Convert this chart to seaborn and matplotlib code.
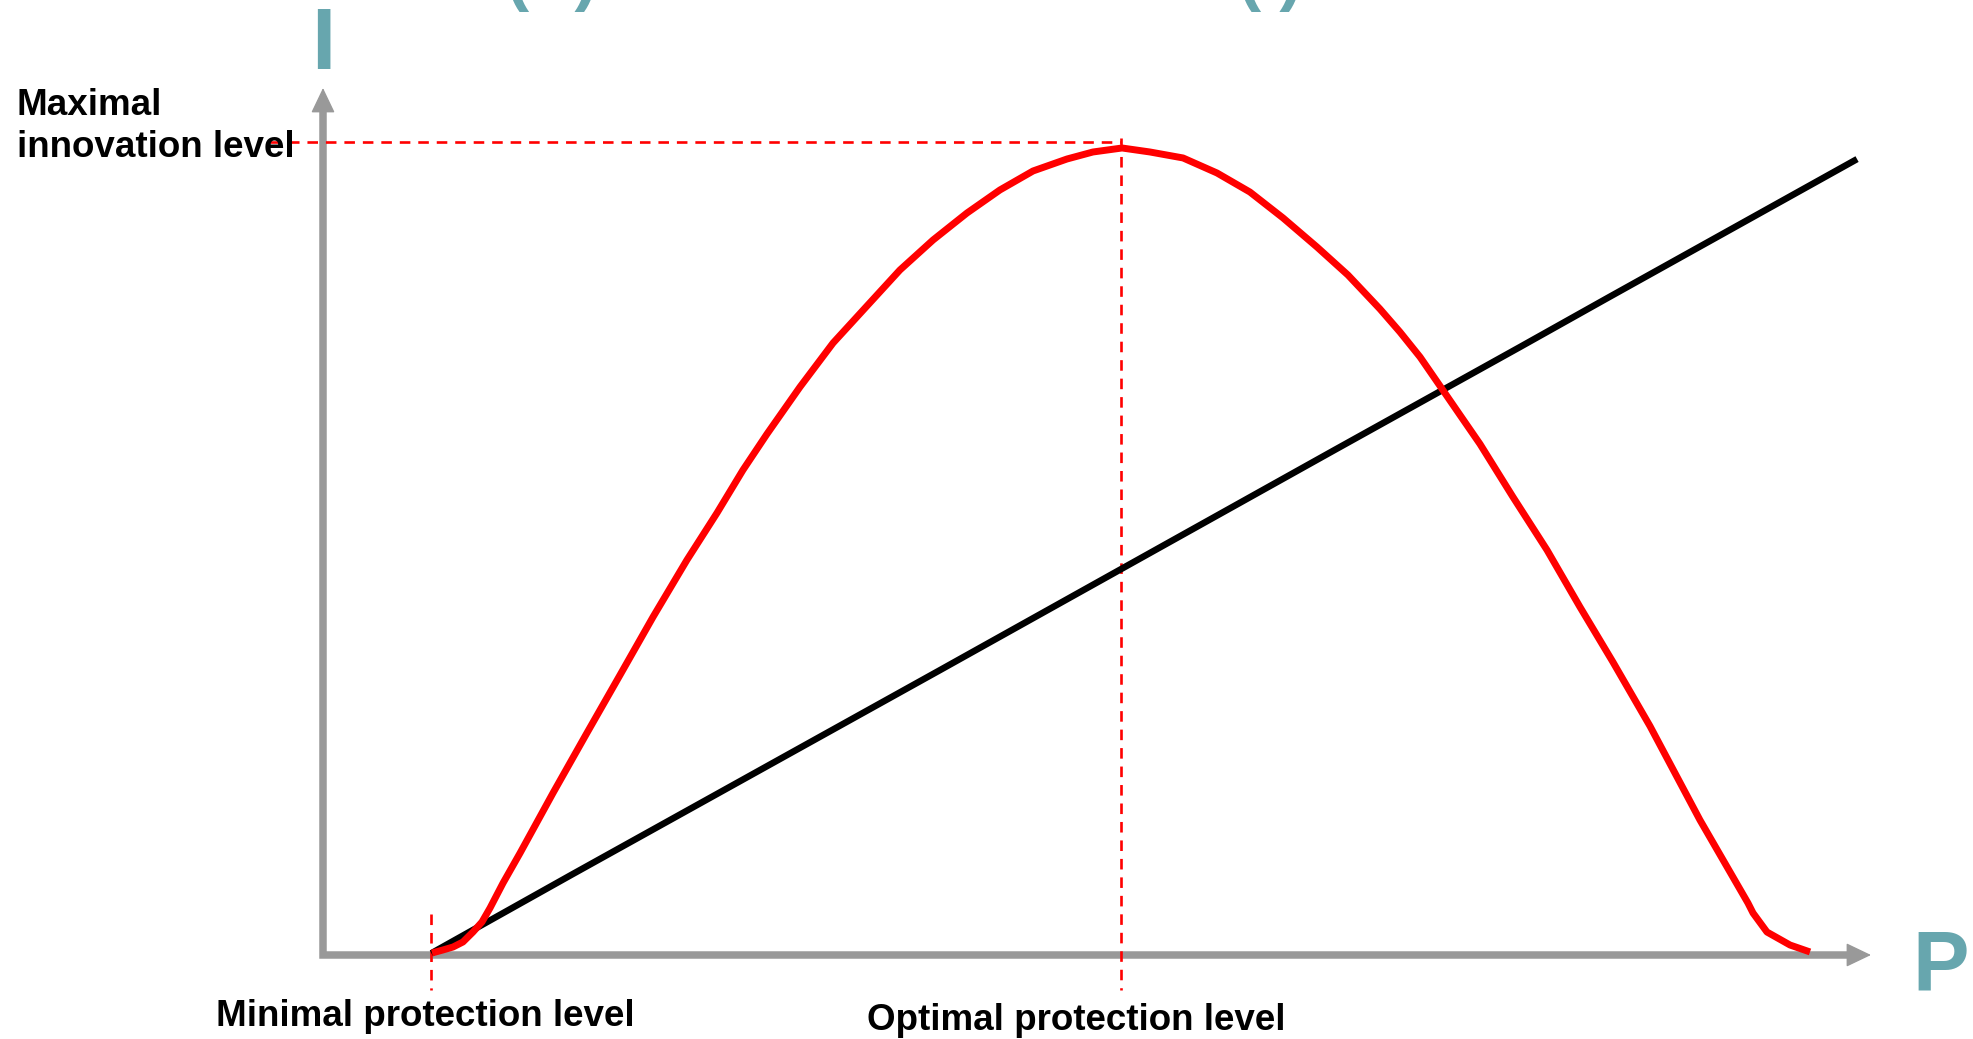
# Innovation level vs protection level - sketch with seaborn
import matplotlib
matplotlib.use("Agg")
import matplotlib.pyplot as plt
import seaborn as sns

# protection level (P) and innovation level (I)
red_p = [0.704, 0.775, 0.840, 0.904, 0.969, 1.027, 1.079, 1.163, 1.273, 1.486,
         1.705, 1.919, 2.132, 2.351, 2.545, 2.713, 2.868, 3.081, 3.295, 3.514,
         3.727, 3.941, 4.160, 4.373, 4.587, 4.806, 4.974, 5.162, 5.342, 5.556,
         5.775, 5.988, 6.202, 6.421, 6.621, 6.828, 6.957, 7.087, 7.216, 7.345,
         7.474, 7.687, 7.907, 8.120, 8.333, 8.572, 8.895, 9.205, 9.238, 9.328,
         9.477, 9.606]
red_i = [0.023, 0.058, 0.092, 0.150, 0.265, 0.381, 0.542, 0.830, 1.176, 1.869,
         2.561, 3.230, 3.899, 4.556, 5.098, 5.594, 6.009, 6.551, 7.059, 7.486,
         7.901, 8.247, 8.558, 8.824, 9.043, 9.181, 9.262, 9.308, 9.262, 9.193,
         9.020, 8.800, 8.501, 8.166, 7.843, 7.451, 7.186, 6.897, 6.563, 6.228,
         5.894, 5.283, 4.671, 4.014, 3.379, 2.641, 1.557, 0.600, 0.484, 0.265,
         0.115, 0.035]
black_p = [0.70, 1.61, 3.99, 6.53, 7.73, 8.30, 9.91]
black_i = [0.02, 0.93, 3.29, 5.82, 7.01, 7.58, 9.18]

min_level = 0.70
opt_level = 5.155
max_innov = 9.38

gray = "#999999"
teal = "#67A6AE"

sns.set_theme(style="white")
plt.rcParams["font.family"] = ["Liberation Sans", "DejaVu Sans"]

fig = plt.figure(figsize=(19.73, 10.39), dpi=100)
ax = fig.add_axes([0, 0, 1, 1])
ax.set_xlim(-2.0866, 10.659)
ax.set_ylim(-0.969, 11.015)
ax.axis("off")

# axes with arrow heads
ax.plot([0, 0, 9.86], [9.72, 0, 0], color=gray, lw=5.4,
        solid_joinstyle="miter", solid_capstyle="butt")
head = "-|>,head_length=15.9,head_width=7.6"
ax.annotate("", xy=(10, 0), xytext=(9.8, 0),
            arrowprops=dict(arrowstyle=head, mutation_scale=1, color=gray,
                            lw=1, shrinkA=0, shrinkB=0))
ax.annotate("", xy=(0, 10), xytext=(0, 9.6),
            arrowprops=dict(arrowstyle=head, mutation_scale=1, color=gray,
                            lw=1, shrinkA=0, shrinkB=0))

# guide lines
dash = (0, (4.0, 3.0))
ax.plot([min_level, min_level], [0.47, -0.40], color="red", lw=1.9, ls=dash)
ax.plot([opt_level, opt_level], [9.42, -0.40], color="red", lw=1.9, ls=dash)
ax.plot([-0.34, opt_level], [max_innov, max_innov], color="red", lw=1.9, ls=dash)

sns.lineplot(x=black_p, y=black_i, sort=False, estimator=None, color="black",
             lw=4.7, ax=ax, solid_capstyle="butt", solid_joinstyle="round")
sns.lineplot(x=red_p, y=red_i, sort=False, estimator=None, color="red",
             lw=5.0, ax=ax, solid_capstyle="butt", solid_joinstyle="round")

lab = dict(fontsize=26.5, fontweight="bold", color="black")
ax.text(-1.977, 9.689, "Maximal", ha="left", va="baseline", **lab)
ax.text(-1.977, 9.204, "innovation level", ha="left", va="baseline", **lab)
ax.text(0.662, -0.819, "Minimal protection level", ha="center", va="baseline", **lab)
ax.text(4.864, -0.865, "Optimal protection level", ha="center", va="baseline", **lab)

ax.text(10.265, -0.404, "P", ha="left", va="baseline", fontsize=61,
        fontweight="bold", color=teal)
ax.text(0.003, 10.219, "I", ha="center", va="baseline", fontsize=63,
        fontweight="bold", color=teal)

# title of the slide, cut off at the top edge as in the reference
ax.text(1.479, 11.04, "(P)", ha="center", va="baseline", fontsize=50,
        fontweight="bold", color=teal, clip_on=False)
ax.text(6.118, 11.04, "(I)", ha="center", va="baseline", fontsize=50,
        fontweight="bold", color=teal, clip_on=False)

fig.savefig("out.png", dpi=100)
